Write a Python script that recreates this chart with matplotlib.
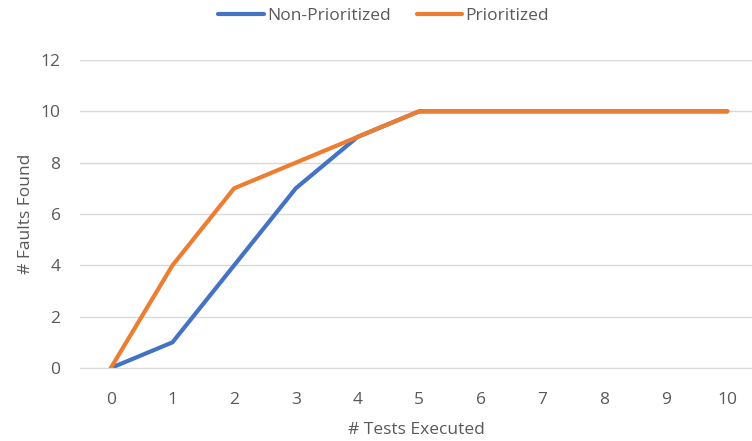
import matplotlib.pyplot as plt

tests = list(range(11))
non_prioritized = [0, 1, 4, 7, 9, 10, 10, 10, 10, 10, 10]
prioritized = [0, 4, 7, 8, 9, 10, 10, 10, 10, 10, 10]

plt.rcParams['font.family'] = ['Open Sans', 'DejaVu Sans']
grey = '#595959'

fig = plt.figure(figsize=(7.52, 4.41), dpi=100)
ax = fig.add_axes([80/752, 73/441, 672/752, 308/441])

ax.plot(tests, non_prioritized, color='#4472C4', lw=3, label='Non-Prioritized', solid_capstyle='round')
ax.plot(tests, prioritized, color='#ED7D31', lw=3, label='Prioritized', solid_capstyle='round')

ax.set_xlim(-0.5, 10.4)
ax.set_ylim(0, 12)
ax.set_xticks(tests)
ax.set_yticks(range(0, 13, 2))
ax.grid(axis='y', color='#D9D9D9', lw=1)
ax.set_axisbelow(True)
for s in ['top', 'right', 'left']:
    ax.spines[s].set_visible(False)
ax.spines['bottom'].set_color('#D9D9D9')
ax.tick_params(length=0, labelsize=12.5, labelcolor=grey)
ax.tick_params(axis='x', pad=17.5)
ax.tick_params(axis='y', pad=14)

ax.set_xlabel('# Tests Executed', fontsize=12.5, color=grey, labelpad=10)
ax.set_ylabel('# Faults Found', fontsize=12.5, color=grey, labelpad=5)

ax.legend(loc='center', bbox_to_anchor=(0.452, 1.143), ncol=2, frameon=False,
          fontsize=12.5, labelcolor=grey, handlelength=2.6, handletextpad=0.2, columnspacing=1.5)

fig.savefig('out.png', dpi=100)
